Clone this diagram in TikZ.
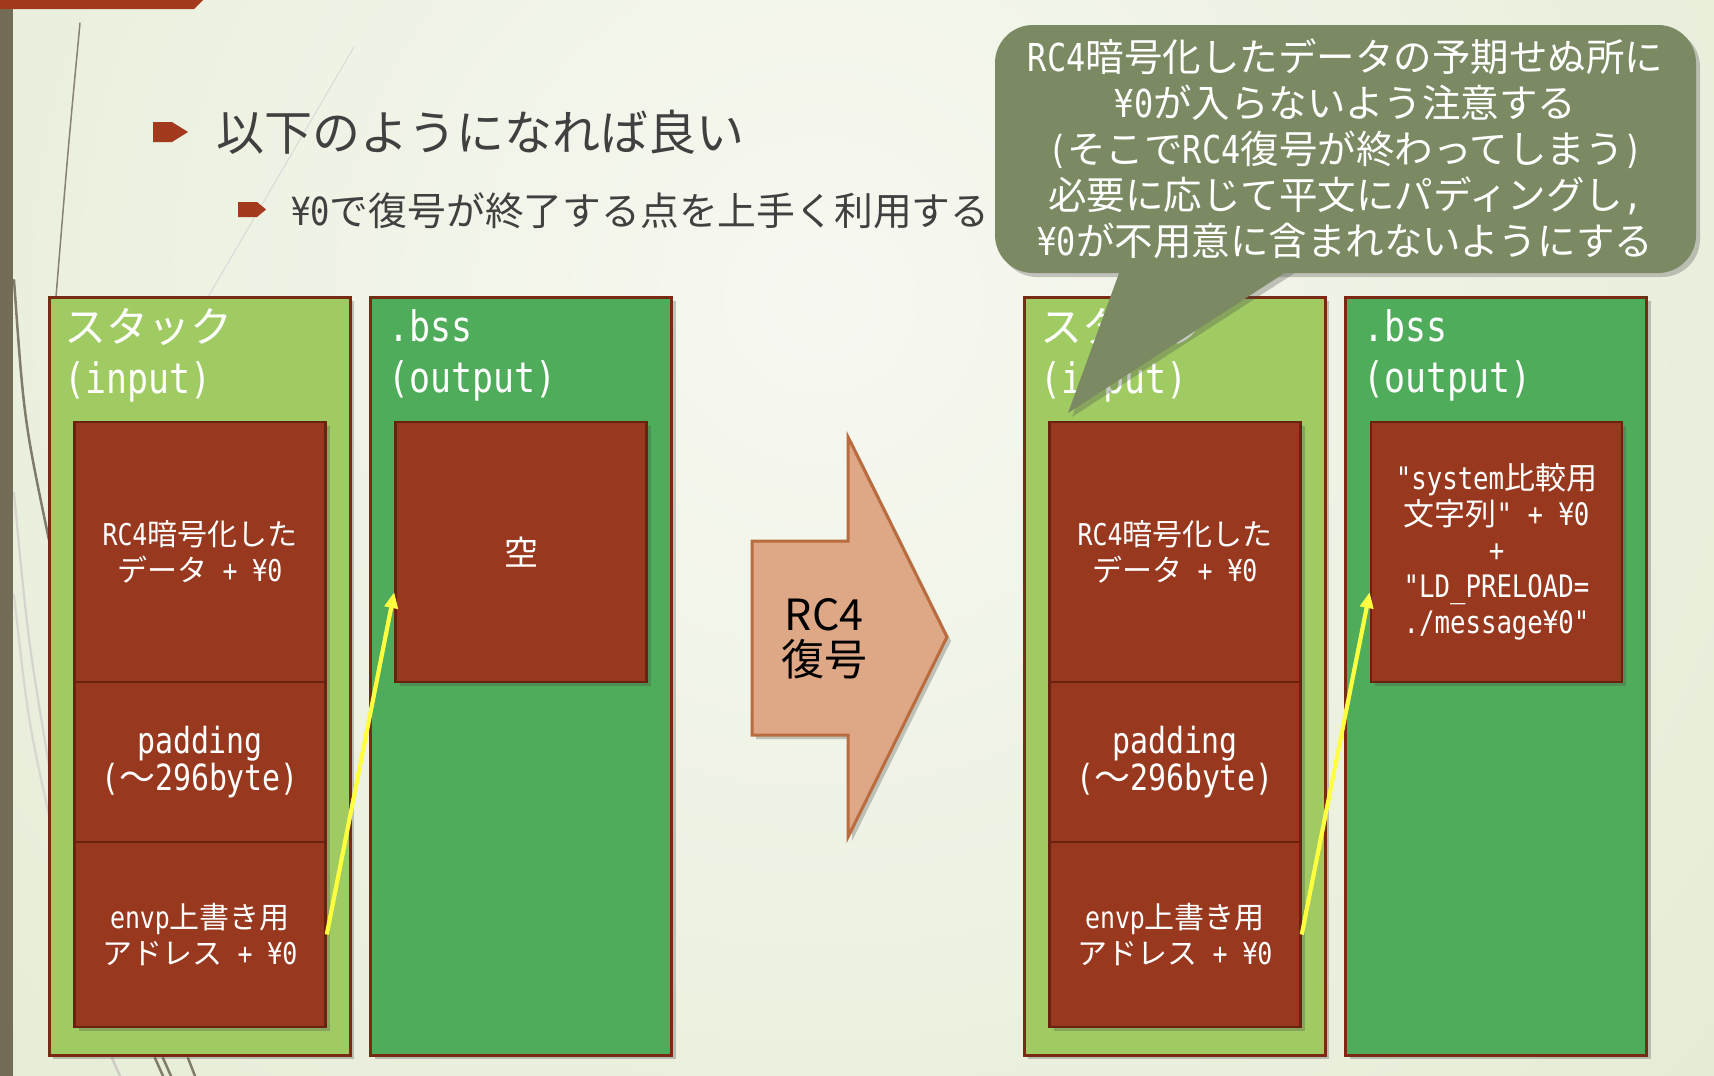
\documentclass[tikz,border=0pt]{standalone}
\usepackage{fontspec}
\setmainfont{Noto Sans CJK JP}
\newfontfamily\monof[FakeStretch=0.83]{DejaVu Sans Mono}
\newcommand\mo[1]{{\monof #1}}
\usetikzlibrary{shadows,arrows.meta}
\definecolor{bgin}{RGB}{247,248,241}
\definecolor{bgout}{RGB}{216,228,194}
\definecolor{stackg}{RGB}{160,203,98}
\definecolor{bssg}{RGB}{79,172,91}
\definecolor{boxedge}{RGB}{120,42,18}
\definecolor{blockred}{RGB}{152,57,31}
\definecolor{blockedge}{RGB}{105,34,15}
\definecolor{callout}{RGB}{123,138,98}
\definecolor{arrowfill}{RGB}{222,167,134}
\definecolor{arrowedge}{RGB}{186,108,62}
\definecolor{ylw}{RGB}{255,255,64}
\definecolor{leftbar}{RGB}{115,109,88}
\definecolor{topbar}{RGB}{163,58,30}
\definecolor{titlegray}{RGB}{64,64,64}
\tikzset{
  shad/.style={drop shadow={shadow xshift=4pt,shadow yshift=-4pt,opacity=.3,fill=black!70}},
  stackbox/.style={draw=boxedge,line width=3,fill=stackg,shad,minimum width=301,minimum height=758,inner sep=0},
  bssbox/.style={stackbox,fill=bssg},
  blk/.style={draw=blockedge,line width=2.5,fill=blockred,shad,text=white,align=center,minimum width=251,inner sep=0,font=\fontsize{30}{36}\selectfont},
  hdr/.style={anchor=west,text=white,align=left,inner sep=0,font=\fontsize{42}{51}\selectfont},
  ylwarrow/.style={draw=ylw,line width=4.2,-{Triangle[length=16pt,width=13pt]}},
  deco/.style={line cap=round},
}
\begin{document}
\begin{tikzpicture}[x=1pt,y=-1pt]
\useasboundingbox (0,0) rectangle (1714,1076);
% background
\fill[bgout] (0,0) rectangle (1714,1076);
\begin{scope}
  \clip (0,0) rectangle (1714,1076);
  \shade[inner color=bgin,outer color=bgout] (820,300) circle (2000);
\end{scope}
% decorations
\draw[deco,leftbar!85,line width=1.5] (80,23) .. controls (68,150) .. (56,297);
\draw[deco,black!15,line width=1] (354,47) -- (208,297);
\draw[deco,leftbar!90,line width=2.5] (14,280) .. controls (24,420) .. (49,540);
\draw[deco,leftbar!30,line width=2.2] (14,493) .. controls (28,640) .. (49,765);
\draw[deco,leftbar!28,line width=2.2] (14,595) .. controls (28,720) .. (49,815);
\draw[deco,leftbar!35,line width=2.5] (112,1058) -- (120,1076);
\draw[deco,leftbar!90,line width=2.5] (155,1058) -- (163,1076);
\draw[deco,leftbar!90,line width=2.5] (163,1058) -- (171,1076);
\draw[deco,leftbar!90,line width=2.5] (188,1058) -- (195,1076);
\fill[leftbar] (0,0) rectangle (13,1076);
\fill[topbar] (0,0) -- (203,0) -- (194,9) -- (0,9) -- cycle;
% bullets and titles
\fill[topbar] (153,122) -- (172,122) -- (188,132) -- (172,142) -- (153,142) -- cycle;
\fill[topbar] (238,202) -- (257,202) -- (266,209.5) -- (257,217) -- (238,217) -- cycle;
\node[anchor=west,text=titlegray,inner sep=0,font=\fontsize{48}{58}\selectfont] (title) at (216,132) {以下のようになれば良い};
\node[anchor=west,text=titlegray,inner sep=0,font=\fontsize{38.8}{44}\selectfont] (sub) at (291,211) {\mo{¥0}で復号が終了する点を上手く利用する};
% left memory
\node[stackbox] (stackL) at (199.5,676) {};
\node[bssbox] (bssL) at (521,676) {};
\node[hdr] (hStackL) at (64,355) {スタック\\\mo{(input)}};
\node[hdr] (hBssL) at (388,355) {\mo{.bss}\\\mo{(output)}};
\node[blk,minimum height=260] (rc4L) at (200,552) {\mo{RC4}暗号化した\\データ\mo{ + ¥0}};
\node[blk,minimum height=160,font=\fontsize{36}{37}\selectfont] (padL) at (200,762) {\mo{padding}\\\mo{(}～\mo{296byte)}};
\node[blk,minimum height=185] (envL) at (200,934.5) {\mo{envp}上書き用\\アドレス\mo{ + ¥0}};
\node[blk,minimum height=260,font=\fontsize{34}{40}\selectfont] (emptyL) at (521,552) {空};
% right memory
\node[stackbox] (stackR) at (1174.5,676) {};
\node[bssbox] (bssR) at (1496,676) {};
\node[hdr] (hStackR) at (1040,355) {スタック\\\mo{(input)}};
\node[hdr] (hBssR) at (1363,355) {\mo{.bss}\\\mo{(output)}};
\node[blk,minimum height=260] (rc4R) at (1175,552) {\mo{RC4}暗号化した\\データ\mo{ + ¥0}};
\node[blk,minimum height=160,font=\fontsize{36}{37}\selectfont] (padR) at (1175,762) {\mo{padding}\\\mo{(}～\mo{296byte)}};
\node[blk,minimum height=185] (envR) at (1175,934.5) {\mo{envp}上書き用\\アドレス\mo{ + ¥0}};
\node[blk,minimum height=260,font=\fontsize{31}{36}\selectfont] (strR) at (1496.5,552) {\mo{"system}比較用\\文字列\mo{" + ¥0}\\\mo{+}\\\mo{"LD\_PRELOAD=}\\\mo{./message¥0"}};
% yellow pointers
\draw[ylwarrow] (envL.east) -- ([yshift=-40pt]emptyL.west);
\draw[ylwarrow] (envR.east) -- ([yshift=-40pt]strR.west);
% big arrow
\path[fill=arrowfill,draw=arrowedge,line width=3,line join=miter,shad]
  (752,541) -- (848,541) -- (848,437) -- (947,637) -- (848,837) -- (848,735) -- (752,735) -- cycle;
\node[align=center,inner sep=0,font=\fontsize{43}{45}\selectfont] (rc4lbl) at (824,639) {RC4\\復号};
% callout
\node[fill=callout,rounded corners=38,minimum width=701,minimum height=248,inner sep=0,shad,text=white,align=center,font=\fontsize{38.5}{46}\selectfont] (callout) at (1345.5,149)
  {\mo{RC4}暗号化したデータの予期せぬ所に\\\mo{¥0}が入らないよう注意する\\\mo{(}そこで\mo{RC4}復号が終わってしまう\mo{)}\\必要に応じて平文にパディングし\mo{,}\\\mo{¥0}が不用意に含まれないようにする};
\coordinate (tailtip) at (1068,413);
\fill[callout,shad] ([xshift=-225pt,yshift=4pt]callout.south) -- ([xshift=-55pt,yshift=4pt]callout.south) -- (tailtip) -- cycle;
\end{tikzpicture}
\end{document}
